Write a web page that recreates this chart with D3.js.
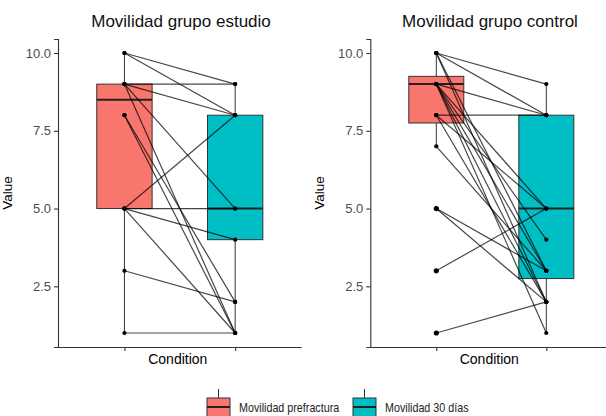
<!DOCTYPE html>
<html>
<head>
<meta charset="utf-8">
<script src="https://cdn.jsdelivr.net/npm/d3@7"></script>
<style>
  body { margin: 0; background: #fff; }
  text { font-family: "Liberation Sans", Arial, sans-serif; }
</style>
</head>
<body>
<svg id="chart" width="606" height="416"></svg>
<script>
//DATA
const conditions = ["Movilidad prefractura", "Movilidad 30 días"];
const panelTitles = ["Movilidad grupo estudio", "Movilidad grupo control"];
const yTicks = [2.5, 5.0, 7.5, 10.0];
const fillColors = ["#F8766D", "#00BFC4"];

//paired values, one entry per patient (prefractura, 30 dias)
const estudioPre  = [10, 10, 9, 9, 9, 9, 8, 8, 5, 5, 5, 5, 3, 1];
const estudioPost = [ 9,  8, 9, 8, 5, 1, 1, 2, 8, 5, 4, 1, 2, 1];
const controlPre  = [10, 10, 10, 10, 9, 9, 9, 9, 9, 9, 8, 8, 8, 7, 5, 5, 3, 1];
const controlPost = [ 9,  8,  3,  2, 8, 5, 4, 3, 2, 1, 8, 5, 2, 3, 3, 2, 5, 2];

//box stats: [lower whisker, Q1, median, Q3, upper whisker]
const estudioBoxes = [[1, 5, 8.5, 9, 10], [1, 4, 5, 8, 9]];
const controlBoxes = [[7, 7.75, 9, 9.25, 10], [1, 2.75, 5, 8, 9]];
const estudioOutliers = [[], []];
const controlOutliers = [[5, 3, 1], []];

//LAYOUT
const svg = d3.select("#chart");
const yTop = 39, yBottom = 347;
const panels = [
    { title: panelTitles[0], pre: estudioPre, post: estudioPost, boxes: estudioBoxes, outliers: estudioOutliers, x0: 58, x1: 301.6, titleX: 181, ylabX: 12 },
    { title: panelTitles[1], pre: controlPre, post: controlPost, boxes: controlBoxes, outliers: controlOutliers, x0: 370.3, x1: 612.3, titleX: 490, ylabX: 324 }
];

let y = d3.scaleLinear().domain([0.55, 10.45]).range([yBottom, yTop]);

panels.forEach(function (p) {
    let x = d3.scalePoint().domain(conditions).range([p.x0, p.x1]).padding(0.6);
    let boxW = x.step() * 0.5;
    let g = svg.append("g");

    //title
    g.append("text")
        .attr("x", p.titleX).attr("y", 27)
        .attr("text-anchor", "middle")
        .attr("font-size", "17px")
        .attr("fill", "#111")
        .text(p.title);

    //boxes
    p.boxes.forEach(function (b, i) {
        let cx = x(conditions[i]);
        let bg = g.append("g");
        bg.append("line")
            .attr("x1", cx).attr("x2", cx)
            .attr("y1", y(b[3])).attr("y2", y(b[4]))
            .attr("stroke", "#333").attr("stroke-width", 1);
        bg.append("line")
            .attr("x1", cx).attr("x2", cx)
            .attr("y1", y(b[0])).attr("y2", y(b[1]))
            .attr("stroke", "#333").attr("stroke-width", 1);
        bg.append("rect")
            .attr("x", cx - boxW / 2).attr("width", boxW)
            .attr("y", y(b[3])).attr("height", y(b[1]) - y(b[3]))
            .attr("fill", fillColors[i])
            .attr("stroke", "#333").attr("stroke-width", 1);
        bg.append("line")
            .attr("x1", cx - boxW / 2).attr("x2", cx + boxW / 2)
            .attr("y1", y(b[2])).attr("y2", y(b[2]))
            .attr("stroke", "#222").attr("stroke-width", 2);
        p.outliers[i].forEach(function (v) {
            bg.append("circle")
                .attr("cx", cx).attr("cy", y(v)).attr("r", 2.6)
                .attr("fill", "#111");
        });
    });

    //paired lines
    let pairs = p.pre.map((v, k) => [v, p.post[k]]);
    g.selectAll(".pair")
        .data(pairs)
        .enter()
        .append("line")
        .attr("x1", x(conditions[0])).attr("x2", x(conditions[1]))
        .attr("y1", d => y(d[0])).attr("y2", d => y(d[1]))
        .attr("stroke", "#000").attr("stroke-opacity", 0.72)
        .attr("stroke-width", 1.2);

    //points
    pairs.forEach(function (d) {
        d.forEach(function (v, i) {
            g.append("circle")
                .attr("cx", x(conditions[i])).attr("cy", y(v)).attr("r", 2.1)
                .attr("fill", "#000");
        });
    });

    //axes
    let yAxis = g.append("g")
        .attr("transform", "translate(" + p.x0 + ",0)")
        .call(d3.axisLeft(y).tickValues(yTicks).tickFormat(d3.format(".1f")).tickSize(4).tickPadding(3));
    let xAxis = g.append("g")
        .attr("transform", "translate(0," + yBottom + ")")
        .call(d3.axisBottom(x).tickSize(4).tickFormat(""));
    [yAxis, xAxis].forEach(function (a) {
        a.select(".domain").attr("stroke", "#333").attr("stroke-width", 1.1);
        a.selectAll(".tick line").attr("stroke", "#333").attr("stroke-width", 1.1);
        a.selectAll(".tick text")
            .attr("font-size", "13px")
            .attr("fill", "#4D4D4D")
            .style("font-family", "'Liberation Sans', Arial, sans-serif");
    });
    xAxis.select(".domain").attr("d", "M" + p.x0 + ",0.5H" + p.x1);

    //axis titles
    g.append("text")
        .attr("x", (p.x0 + p.x1) / 2 - 2).attr("y", 364)
        .attr("text-anchor", "middle")
        .attr("font-size", "14px")
        .text("Condition");
    g.append("text")
        .attr("transform", "translate(" + p.ylabX + "," + ((yTop + yBottom) / 2) + ") rotate(-90)")
        .attr("text-anchor", "middle")
        .attr("font-size", "13.5px")
        .text("Value");
});

//LEGEND
const legendX = [207, 353];
conditions.forEach(function (c, i) {
    let lg = svg.append("g").attr("transform", "translate(" + legendX[i] + ",0)");
    lg.append("line")
        .attr("x1", 11.5).attr("x2", 11.5).attr("y1", 389).attr("y2", 398)
        .attr("stroke", "#333").attr("stroke-width", 1);
    lg.append("rect")
        .attr("x", 0).attr("y", 398).attr("width", 23).attr("height", 20)
        .attr("fill", fillColors[i]).attr("stroke", "#333").attr("stroke-width", 1);
    lg.append("line")
        .attr("x1", 0).attr("x2", 23).attr("y1", 407).attr("y2", 407)
        .attr("stroke", "#222").attr("stroke-width", 2);
    //the legend labels look condensed in the picture, so squeeze them horizontally
    lg.append("text")
        .attr("transform", "translate(32,412) scale(0.86,1)")
        .attr("font-size", "12.5px")
        .attr("fill", "#222")
        .text(c);
});
</script>
</body>
</html>
